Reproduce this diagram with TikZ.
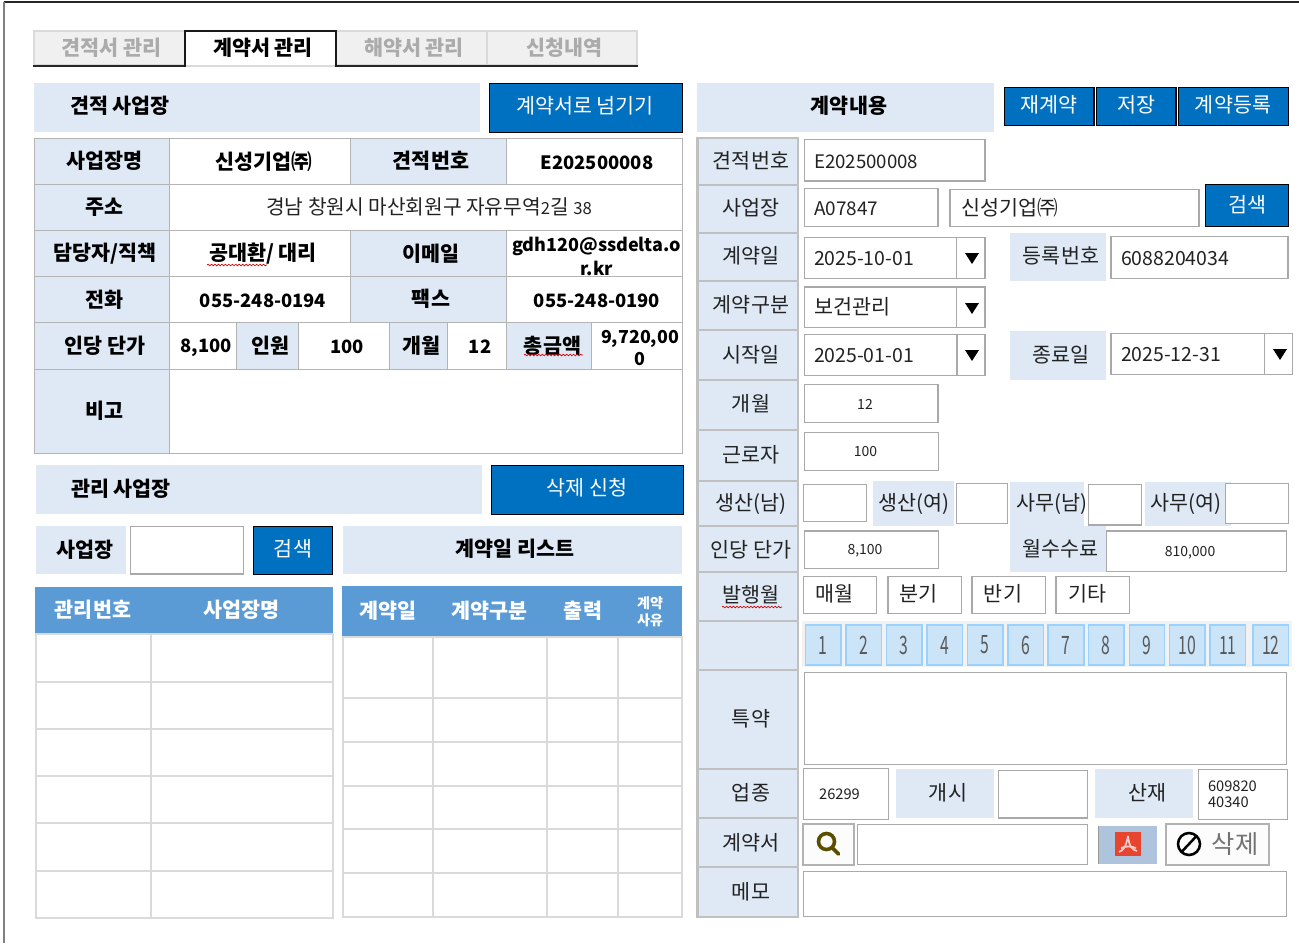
\documentclass[tikz,border=0pt]{standalone}
\usepackage{fontspec}
\usetikzlibrary{decorations.pathmorphing}
\setmainfont{Noto Sans CJK KR}
\definecolor{lb}{HTML}{DEE9F5}
\definecolor{btn}{HTML}{0070C0}
\definecolor{hdr}{HTML}{5B9BD5}
\definecolor{inp}{HTML}{A9A9A9}
\definecolor{cellg}{HTML}{B4B4B4}
\definecolor{gridg}{HTML}{DADADA}
\definecolor{lblg}{HTML}{C0C0C0}
\definecolor{txt}{HTML}{222222}
\definecolor{mfill}{HTML}{CCE4F7}
\definecolor{mline}{HTML}{99D1FF}
\newcommand{\fz}[1]{\fontsize{#1}{#1}\selectfont}
\newcommand{\xs}[1]{\hspace*{#1pt}}
\tikzset{
  base/.style={inner sep=0pt,outer sep=0pt,align=center,text=txt},
  reg/.style={base,font=\fz{15.5}},
  num/.style={base,font=\fz{14.6}},
  bld/.style={base,font=\fz{15.5}\bfseries,text=black},
  bnum/.style={base,font=\fz{13.8}\bfseries,text=black},
  smalltxt/.style={base,font=\fz{10.5}},
  capb/.style={fill=lb},
  cellb/.style={draw=cellg,line width=.75pt},
  lcell/.style={cellb,fill=lb},
  wcell/.style={cellb,fill=white},
  ibox/.style={draw=inp,line width=1.1pt,fill=white},
  lbl/.style={draw=lblg,line width=2pt,fill=lb},
  bluebtn/.style={draw=black,line width=.9pt,fill=btn},
  btxt/.style={base,text=white,font=\fz{15.5}},
  tabo/.style={draw=gridg,line width=1.5pt,fill=black!6,font=\fz{15.5}\bfseries,text=black!33},
  gridc/.style={draw=gridg,line width=1.5pt,fill=white},
  mon/.style={draw=mline,line width=1.1pt,fill=mfill},
  sq/.style={draw=red!85!black,line width=.5pt,decorate,decoration={snake,amplitude=.6pt,segment length=2.6pt}},
}
\newcommand{\bx}[7]{%
  \pgfmathsetmacro\cxx{(#3+#5)/2}\pgfmathsetmacro\cyy{(#4+#6)/2}%
  \pgfmathsetmacro\ww{(#5-#3)*0.75}\pgfmathsetmacro\hh{(#6-#4)*0.75}%
  \node[base,minimum width=\ww pt,minimum height=\hh pt,#2] (#1) at (\cxx,\cyy) {#7};}
\newcommand{\tx}[5]{\node[#2,yshift=-.75pt] (#1) at (#3,#4) {#5};}
\newcommand{\tri}[3]{\fill[black] (#2-7,#3-5) -- (#2+7,#3-5) -- (#2,#3+6) -- cycle;}
\begin{document}
\begin{tikzpicture}[x=0.75pt,y=-0.75pt]
\useasboundingbox (0,0) rectangle (1299,943);
\fill[white] (0,0) rectangle (1299,943);
\draw[black!85,line width=.9pt] (3.5,2) -- (1299,2);
\draw[black!50,line width=1.5pt] (3.5,2) -- (3.5,943);
% tabs
\bx{tab1}{tabo}{33.5}{30.5}{185}{65}{\xs{3.75}견적서 관리}
\bx{tab3}{tabo}{336}{30.5}{487}{65}{\xs{3.75}해약서 관리}
\bx{tab4}{tabo}{487}{30.5}{637}{65}{\xs{3.75}신청내역}
\draw[black!85,line width=1.5pt] (33,65.5) -- (185,65.5) (336,65.5) -- (638,65.5);
\bx{tab2}{fill=white,font=\fz{15.5}\bfseries,text=black}{185}{30.5}{336}{66}{\xs{3.75}계약서 관리}
\draw[black!90,line width=1.5pt] (185,66.5) -- (185,30.5) -- (336,30.5) -- (336,66.5);
\draw[gridg,line width=1.5pt] (186,65.5) -- (335,65.5);
% estimate header
\bx{h1}{capb}{34}{83}{480}{132}{}
\tx{h1t}{bld}{120}{105}{견적 사업장}
\bx{b1}{bluebtn}{489.5}{83.5}{682.5}{132.5}{}
\tx{b1t}{btxt}{585}{105}{계약서로 넘기기}
% estimate table
\bx{c11}{lcell,bld}{34}{138}{169.5}{184.5}{\xs{4.5}사업장명}
\bx{c12}{wcell,bld}{169.5}{138}{350.5}{184.5}{\xs{6}신성기업㈜}
\bx{c13}{lcell,bld}{350.5}{138}{506}{184.5}{}
\tx{c13t}{bld}{431}{160}{견적번호}
\bx{c14}{wcell}{506}{138}{682}{184.5}{}
\tx{c14t}{bnum}{597}{162}{E202500008}
\bx{c21}{lcell,bld}{34}{184.5}{169.5}{230.5}{\xs{4.5}주소}
\bx{c22}{wcell}{169.5}{184.5}{682}{230.5}{}
\tx{c22t}{reg,font=\fz{15.2}}{429}{206}{경남 창원시 마산회원구 자유무역{\fz{12.5}2}길 {\fz{12.5}38}}
\bx{c31}{lcell,bld}{34}{230.5}{169.5}{276.5}{\xs{4.5}담당자/직책}
\bx{c32}{wcell,bld}{169.5}{230.5}{350.5}{276.5}{\xs{4.5}공대환/ 대리}
\bx{c33}{lcell,bld}{350.5}{230.5}{506}{276.5}{\xs{4.5}이메일}
\bx{c34}{wcell}{506}{230.5}{682}{276.5}{}
\tx{c34t}{bnum,font=\fz{13.5}\bfseries,align=center}{596.5}{255}{gdh120@ssdelta.o\\[3pt]r.kr}
\bx{c41}{lcell,bld}{34}{276.5}{169.5}{322.5}{\xs{4.5}전화}
\bx{c42}{wcell}{169.5}{276.5}{350.5}{322.5}{}
\tx{c42t}{bnum}{263}{300}{055-248-0194}
\bx{c43}{lcell,bld}{350.5}{276.5}{506}{322.5}{}
\tx{c43t}{bld}{431}{298}{팩스}
\bx{c44}{wcell}{506}{276.5}{682}{322.5}{}
\tx{c44t}{bnum}{597}{300}{055-248-0190}
\bx{c51}{lcell,bld}{34}{322.5}{169.5}{369}{\xs{4.5}인당 단가}
\bx{c52}{wcell}{169.5}{322.5}{236.5}{369}{}
\tx{c52t}{bnum}{206}{347}{8,100}
\bx{c53}{lcell,bld}{236.5}{322.5}{298.5}{369}{\xs{5}인원}
\bx{c54}{wcell}{298.5}{322.5}{389}{369}{}
\tx{c54t}{bnum}{347}{346}{100}
\bx{c55}{lcell,bld}{389}{322.5}{447.5}{369}{\xs{4.5}개월}
\bx{c56}{wcell}{447.5}{322.5}{506}{369}{}
\tx{c56t}{bnum}{480}{346}{12}
\bx{c57}{lcell,bld}{506}{322.5}{591}{369}{\xs{6}총금액}
\bx{c58}{wcell}{591}{322.5}{682}{369}{}
\tx{c58t}{bnum,font=\fz{13.4}\bfseries,align=center}{640}{347}{9,720,00\\[3pt]0}
\bx{c61}{lcell,bld}{34}{369}{169.5}{453}{\xs{4.5}비고}
\bx{c62}{wcell}{169.5}{369}{682}{453}{}
\draw[sq] (207,265) -- (267,265);
\draw[sq] (524,355) -- (583,355);
% managed site
\bx{h2}{capb}{36}{465}{482}{514}{}
\tx{h2t}{bld}{121}{488}{관리 사업장}
\bx{b2}{bluebtn}{491.5}{465.5}{683.5}{514.5}{}
\tx{b2t}{btxt}{587}{487}{삭제 신청}
\bx{l1}{capb,bld}{36}{526}{126}{574}{\xs{6}사업장}
\bx{i1}{ibox}{130.5}{526.5}{243.5}{574}{}
\bx{b3}{bluebtn}{253.5}{526.5}{332.5}{574.5}{}
\tx{b3t}{btxt}{293}{548}{검색}
\bx{h3}{capb}{343}{526}{682}{574}{}
\tx{h3t}{bld}{515}{548}{계약일 리스트}
% left list
\bx{lh}{fill=hdr}{35}{587}{333}{633}{}
\tx{lh1}{bld,text=white}{93}{609}{관리번호}
\tx{lh2}{bld,text=white}{241.5}{609}{사업장명}
\foreach \a/\b [count=\i] in {634/682,682/729,729/776,776/823,823/871,871/918}{
  \bx{la\i}{gridc}{35.5}{\a}{150.5}{\b}{}
  \bx{lb\i}{gridc}{150.5}{\a}{333}{\b}{}
}
% right list
\bx{rh}{fill=hdr}{342}{586}{682}{636}{}
\tx{rh1}{bld,text=white}{388}{610}{계약일}
\tx{rh2}{bld,text=white}{489.5}{610}{계약구분}
\tx{rh3}{bld,text=white}{583}{610}{출력}
\tx{rh4}{base,font=\fz{10.5}\bfseries,text=white,align=center}{650}{611}{계약\\[2pt]사유}
\foreach \a/\b [count=\i] in {637/698,698/742,742/786,786/829,829/873,873/917}{
  \bx{ra\i}{gridc}{342.5}{\a}{432.5}{\b}{}
  \bx{rb\i}{gridc}{432.5}{\a}{547}{\b}{}
  \bx{rc\i}{gridc}{547}{\a}{618}{\b}{}
  \bx{rd\i}{gridc}{618}{\a}{682}{\b}{}
}
% contract header
\bx{h4}{capb}{697}{83}{994}{132}{}
\tx{h4t}{bld}{849}{105}{계약내용}
\bx{b4}{bluebtn}{1004.5}{87.5}{1094}{125.5}{}
\tx{b4t}{btxt}{1049}{104}{재계약}
\bx{b5}{bluebtn}{1096.5}{87.5}{1176}{125.5}{}
\tx{b5t}{btxt}{1136}{104}{저장}
\bx{b6}{bluebtn}{1178.5}{87.5}{1288.5}{125.5}{}
\tx{b6t}{btxt}{1233}{104}{계약등록}
% label column
\foreach \a/\b/\lab/\yy [count=\i] in {
 138/185/견적번호/160,185/233/사업장/207,233/281/계약일/255,281/330/계약구분/304,
 330/380/시작일/354,380/430/개월/403,430/481/근로자/454,481/526/생산(남)/503,
 526/572/인당 단가/549,572/621/발행월/594,621/670//645,670/769/특약/718,
 769/818/업종/792,818/867/계약서/842,867/917/메모/891}{
  \bx{q\i}{lbl}{697.5}{\a}{798}{\b}{}
  \tx{qt\i}{reg}{751}{\yy}{\lab}
}
\draw[sq] (722,607) -- (782,607);
% inputs
\bx{f1}{ibox}{804.5}{139.5}{985}{181}{}
\tx{f1t}{num,anchor=west,font=\fz{14}}{814}{161}{E202500008}
\bx{f2}{ibox}{804.5}{188.5}{938}{226.5}{}
\tx{f2t}{num,anchor=west,font=\fz{14.2}}{814}{208}{A07847}
\bx{f3}{ibox}{950}{189.5}{1199}{226.5}{}
\tx{f3t}{reg,anchor=west}{961}{207}{신성기업㈜}
\bx{b7}{bluebtn}{1205.5}{184.5}{1288.5}{226.5}{}
\tx{b7t}{btxt}{1247}{204}{검색}
\bx{f4}{ibox}{804.5}{237.5}{985}{278.5}{}
\draw[inp,line width=.8pt] (956.5,237.5) -- (956.5,278.5);
\tri{f4a}{972}{258}
\tx{f4t}{num,anchor=west}{814}{258}{2025-10-01}
\bx{l2}{capb}{1010}{233}{1106}{281}{}
\tx{l2t}{reg}{1061}{255}{등록번호}
\bx{f5}{ibox}{1111}{236.5}{1288}{278.5}{}
\tx{f5t}{num,anchor=west}{1121}{258}{6088204034}
\bx{f6}{ibox}{804.5}{287}{985}{327.5}{}
\draw[inp,line width=.8pt] (956.5,287) -- (956.5,327.5);
\tri{f6a}{972}{308}
\tx{f6t}{reg,anchor=west}{814}{306}{보건관리}
\bx{f7}{ibox}{804.5}{334.5}{985}{375.5}{}
\draw[inp,line width=.8pt] (957,334.5) -- (957,375.5);
\tri{f7a}{972}{355}
\tx{f7t}{num,anchor=west}{814}{355}{2025-01-01}
\bx{l3}{capb}{1010}{331}{1106}{380}{}
\tx{l3t}{reg}{1061}{354}{종료일}
\bx{f8}{ibox}{1111}{333.5}{1292.5}{374.5}{}
\draw[inp,line width=.8pt] (1264.5,333.5) -- (1264.5,374.5);
\tri{f8a}{1280}{354}
\tx{f8t}{num,anchor=west}{1121}{354}{2025-12-31}
\bx{f9}{ibox}{804.5}{384.5}{938}{422.5}{}
\tx{f9t}{smalltxt}{865}{403}{12}
\bx{f10}{ibox}{804.5}{432.5}{938.5}{470.5}{}
\tx{f10t}{smalltxt}{865.5}{451}{100}
\bx{f11}{ibox}{803.5}{484.5}{866.5}{521.5}{}
\bx{l4}{capb}{873}{481}{954}{526}{}
\tx{l4t}{reg}{913.5}{503}{생산(여)}
\bx{f12}{ibox}{956.5}{483.5}{1007.5}{523.5}{}
\bx{l5}{capb}{1010}{482}{1084}{526}{}
\tx{l5t}{reg}{1052}{503}{사무(남)}
\bx{f13}{ibox}{1088.5}{484.5}{1141.5}{525}{}
\bx{l6}{capb}{1145}{482}{1231}{526}{}
\bx{f14}{ibox}{1225.5}{483.5}{1288.5}{523.5}{}
\tx{l6t}{reg}{1186}{503}{사무(여)}
\bx{f15}{ibox}{804.5}{531}{938.5}{568.5}{}
\tx{f15t}{smalltxt}{865}{550}{8,100}
\bx{l7}{capb}{1010}{526}{1106}{572}{}
\tx{l7t}{reg}{1060.5}{548}{월수수료}
\bx{f16}{ibox}{1106.5}{531}{1286.5}{571.5}{}
\tx{f16t}{smalltxt}{1190}{552}{810,000}
\bx{p1}{ibox}{803.5}{576.5}{876.5}{613.5}{}
\tx{p1t}{reg}{834.5}{593}{매월}
\bx{p2}{ibox}{888}{576.5}{961.5}{613.5}{}
\tx{p2t}{reg}{918.5}{593}{분기}
\bx{p3}{ibox}{972}{576.5}{1045.5}{613.5}{}
\tx{p3t}{reg}{1003}{593}{반기}
\bx{p4}{ibox}{1056}{576.5}{1129.5}{613.5}{}
\tx{p4t}{reg}{1087.5}{593}{기타}
% months
\bx{mstrip}{fill=black!5}{802}{621}{1292}{667}{}
\foreach \a/\b/\lab in {805.5/841/1,846/881.5/2,886.5/922/3,927/962.5/4,967.5/1003/5,1008/1043.5/6,1048/1084/7,1088.5/1124/8,1129.5/1164.5/9,1169.5/1205/10,1210/1245.5/11,1253/1288.5/12}{
  \bx{m\lab}{mon,text=black!65,font=\fz{19}}{\a}{625}{\b}{665}{\scalebox{.62}[1]{\lab}}
}
\bx{f17}{ibox}{804.5}{672.5}{1286.5}{764.5}{}
\bx{f18}{ibox}{803.5}{768.5}{888.5}{819.5}{}
\tx{f18t}{smalltxt,font=\fz{11}}{839.5}{793}{26299}
\bx{l8}{capb}{896}{769}{994}{818}{}
\tx{l8t}{reg}{948}{792}{개시}
\bx{f19}{ibox}{998.5}{770.5}{1087.5}{818}{}
\bx{l9}{capb}{1095}{769}{1193}{818}{}
\tx{l9t}{reg}{1147}{792}{산재}
\bx{f20}{ibox}{1198.5}{769.5}{1287.5}{819.5}{}
\tx{f20t}{smalltxt,font=\fz{11},align=left,anchor=west}{1208}{793}{609820\\[1pt]40340}
% contract file row
\bx{s1}{draw=black!30,line width=1.5pt,fill=black!1}{802.5}{824}{853.5}{864.5}{}
\draw[color={rgb,255:red,92;green,78;blue,0},line width=2.7pt,line cap=round] (826.5,841.5) circle (8) (832.5,848) -- (838.5,854);
\bx{f21}{ibox}{857.5}{824.5}{1087.5}{864.5}{}
\bx{s2}{fill={rgb,255:red,174;green,195;blue,220}}{1098}{826}{1156.5}{864}{}
\draw[black!40,line width=.9pt] (1098.5,826) -- (1098.5,864);
\fill[color={rgb,255:red,232;green,69;blue,47}] (1115,832) rectangle (1141,856);
\draw[white!80!red,line width=1.3pt] (1128,836) .. controls (1126,846) and (1124,850) .. (1119,852) (1128,836) .. controls (1129,846) and (1132,850) .. (1137,851) (1121,848) .. controls (1126,846) and (1131,846) .. (1136,848);
\bx{s3}{draw=black!30,line width=1.5pt,fill=black!1}{1166}{823.5}{1268.5}{864.5}{}
\draw[black,line width=1.9pt] (1189,844) circle (11) (1181.5,852) -- (1196.5,836);
\tx{s3t}{base,font=\fz{19},text=black!55}{1235}{843}{삭제}
\bx{f22}{ibox}{803.5}{871.5}{1286.5}{916.5}{}
\end{tikzpicture}
\end{document}
